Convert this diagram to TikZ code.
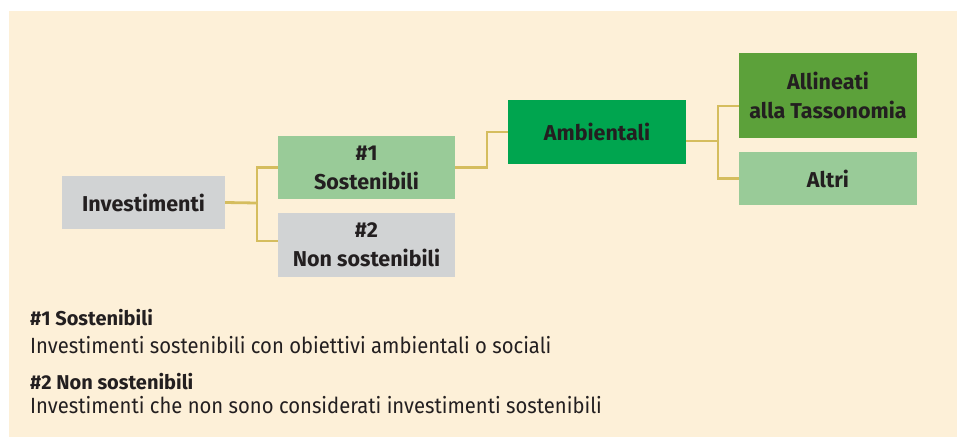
\documentclass[tikz,border=0pt]{standalone}
\usepackage{fontspec}
\setmainfont{Fira Sans}
\newfontfamily\legendfont{Fira Sans}[FakeStretch=0.92]
\usetikzlibrary{calc}
\definecolor{bgcream}{HTML}{FDF0D8}
\definecolor{graybox}{HTML}{D1D3D4}
\definecolor{lightgreen}{HTML}{99CB98}
\definecolor{ambgreen}{HTML}{00A54F}
\definecolor{alligreen}{HTML}{5CA13A}
\definecolor{conngold}{HTML}{D5BD5E}
\definecolor{txtdark}{HTML}{231F20}
\tikzset{
  box/.style={rectangle, inner sep=0pt, align=center, text=txtdark,
    font=\fontsize{21.5}{29}\selectfont\bfseries},
  conn/.style={draw=conngold, line width=2.8pt},
  legendhead/.style={anchor=base west, inner sep=0pt, text=txtdark,
    font=\fontsize{20}{24}\selectfont\bfseries},
  legendtext/.style={anchor=base west, inner sep=0pt, text=txtdark,
    font=\legendfont\fontsize{22}{26}\selectfont}
}
\begin{document}
\begin{tikzpicture}[x=1pt, y=-1pt]
\useasboundingbox (0,0) rectangle (957,437);
\fill[bgcream] (9,11) rectangle (957,437);

\node[box, fill=graybox, minimum width=163pt, minimum height=53pt] (inv) at (143.5,202.5) {Investimenti};
\node[box, fill=lightgreen, minimum width=177pt, minimum height=63pt] (sost) at (366.5,167.5) {\#1\\Sostenibili};
\node[box, fill=graybox, minimum width=177pt, minimum height=64pt] (nons) at (366.5,245) {\#2\\Non sostenibili};
\node[box, fill=ambgreen, minimum width=178pt, minimum height=64pt] (amb) at (597,132) {Ambientali};
\node[box, fill=alligreen, minimum width=178pt, minimum height=85pt] (alli) at (828,95.5) {Allineati\\alla Tassonomia};
\node[box, fill=lightgreen, minimum width=178pt, minimum height=53pt] (altri) at (828,178.5) {Altri};

\coordinate (j1) at (257,203);
\draw[conn] (inv.east) -- (j1);
\draw[conn] (sost.west) -| (j1) |- ($(nons.west)+(0,-4)$);
\draw[conn] (sost.east) -| (487,150) |- (amb.west);
\coordinate (j2) at (718,141);
\draw[conn] ($(amb.east)+(0,9)$) -- (j2);
\draw[conn] ($(alli.west)+(0,10.5)$) -| (j2) |- (altri.west);

\node[legendhead] (h1) at (30,325) {\#1 Sostenibili};
\node[legendtext] (t1) at (30,353) {Investimenti sostenibili con obiettivi ambientali o sociali};
\node[legendhead] (h2) at (30,389) {\#2 Non sostenibili};
\node[legendtext] (t2) at (30,413) {Investimenti che non sono considerati investimenti sostenibili};
\end{tikzpicture}
\end{document}
